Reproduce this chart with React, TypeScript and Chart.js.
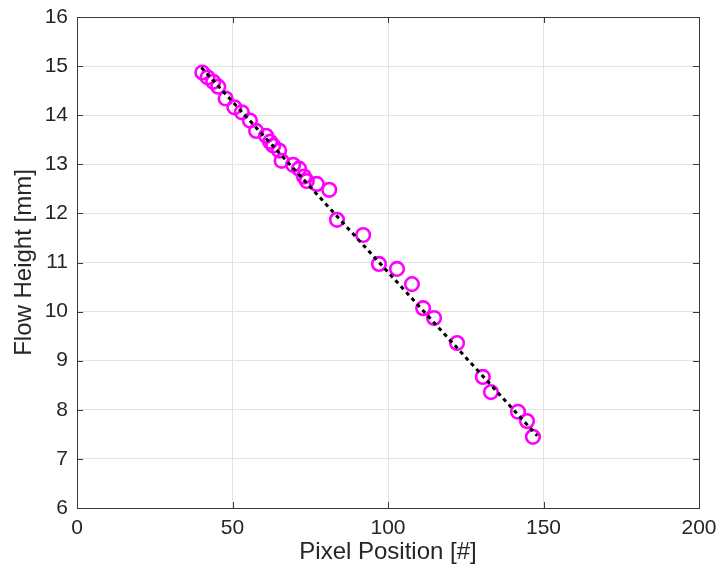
import React, { useEffect, useRef } from "react";
import { Chart, registerables } from "chart.js";

Chart.register(...registerables);

const pixelPosition = [40.3, 42.0, 43.8, 45.4, 47.8, 50.6, 53.0, 55.6, 57.6, 60.8, 62.1, 63.1, 65.0, 65.8, 69.5, 71.4, 73.0, 73.9, 77.1, 81.1, 83.6, 92.0, 97.1, 102.9, 107.7, 111.3, 114.8, 122.2, 130.5, 133.1, 141.8, 144.7, 146.6];
const flowHeight = [14.87, 14.77, 14.68, 14.58, 14.34, 14.16, 14.06, 13.89, 13.68, 13.58, 13.46, 13.38, 13.28, 13.07, 12.99, 12.91, 12.75, 12.66, 12.6, 12.48, 11.87, 11.56, 10.97, 10.87, 10.56, 10.07, 9.87, 9.36, 8.67, 8.36, 7.96, 7.77, 7.45];
const fitX = [40, 148];
const fitY = [14.97, 7.47];

const xTicks = [0, 50, 100, 150, 200];
const yTicks = [6, 7, 8, 9, 10, 11, 12, 13, 14, 15, 16];

const FONT = "'Liberation Sans', Arial, Helvetica, sans-serif";

const framePlugin = {
  id: "frame",
  afterDraw(chart: any) {
    const { ctx, chartArea: a, scales } = chart;
    ctx.save();
    ctx.strokeStyle = "#3a3a3a";
    ctx.lineWidth = 1;
    ctx.strokeRect(Math.round(a.left) + 0.5, Math.round(a.top) + 0.5, Math.round(a.right - a.left), Math.round(a.bottom - a.top));
    const tl = 6;
    ctx.beginPath();
    for (const v of xTicks) {
      const x = Math.round(scales.x.getPixelForValue(v)) + 0.5;
      ctx.moveTo(x, a.bottom);
      ctx.lineTo(x, a.bottom - tl);
      ctx.moveTo(x, a.top);
      ctx.lineTo(x, a.top + tl);
    }
    for (const v of yTicks) {
      const y = Math.round(scales.y.getPixelForValue(v)) + 0.5;
      ctx.moveTo(a.left, y);
      ctx.lineTo(a.left + tl, y);
      ctx.moveTo(a.right, y);
      ctx.lineTo(a.right - tl, y);
    }
    ctx.stroke();
    ctx.restore();
  },
};

export default function App() {
  const ref = useRef<HTMLCanvasElement | null>(null);
  useEffect(() => {
    if (!ref.current) return;
    const chart = new Chart(ref.current, {
      type: "scatter",
      data: {
        datasets: [
          {
            label: "fit",
            data: fitX.map((x, i) => ({ x, y: fitY[i] })),
            showLine: true,
            borderColor: "#000000",
            borderWidth: 3,
            borderDash: [4, 4],
            pointRadius: 0,
            order: 0,
          },
          {
            label: "data",
            data: pixelPosition.map((x, i) => ({ x, y: flowHeight[i] })),
            pointStyle: "circle",
            pointRadius: 6.8,
            pointBorderWidth: 2.6,
            pointBorderColor: "#ff00ff",
            pointBackgroundColor: "rgba(0,0,0,0)",
            showLine: false,
            order: 1,
          },
        ],
      },
      options: {
        responsive: false,
        animation: false,
        events: [],
        layout: { padding: { top: 17, right: 20, left: 0, bottom: 0 } },
        plugins: { legend: { display: false }, tooltip: { enabled: false } },
        scales: {
          x: {
            type: "linear",
            min: 0,
            max: 200,
            afterBuildTicks: (s: any) => { s.ticks = xTicks.map((v) => ({ value: v })); },
            afterFit: (s: any) => { s.height = 60; s.paddingLeft = 0; s.paddingRight = 0; },
            grid: { color: "#e3e3e3", lineWidth: 1, drawTicks: false },
            border: { display: false },
            ticks: { color: "#262626", font: { family: FONT, size: 21 }, padding: 8, maxRotation: 0 },
            title: { display: true, text: "Pixel Position [#]", color: "#262626", font: { family: FONT, size: 24 }, padding: { top: 0, bottom: 1 } },
          },
          y: {
            type: "linear",
            min: 6,
            max: 16,
            afterBuildTicks: (s: any) => { s.ticks = yTicks.map((v) => ({ value: v })); },
            afterFit: (s: any) => { s.width = 77; s.paddingTop = 0; s.paddingBottom = 0; },
            grid: { color: "#e3e3e3", lineWidth: 1, drawTicks: false },
            border: { display: false },
            ticks: { color: "#262626", font: { family: FONT, size: 21 }, padding: 9 },
            title: { display: true, text: "Flow Height [mm]", color: "#262626", font: { family: FONT, size: 24 }, padding: { top: 10, bottom: 0 } },
          },
        },
      },
      plugins: [framePlugin],
    });
    return () => chart.destroy();
  }, []);
  return (
    <div style={{ position: "fixed", left: 0, top: 0, width: 719, height: 568, background: "#ffffff" }}>
      <canvas ref={ref} width={719} height={568} style={{ display: "block", width: 719, height: 568 }} />
    </div>
  );
}
